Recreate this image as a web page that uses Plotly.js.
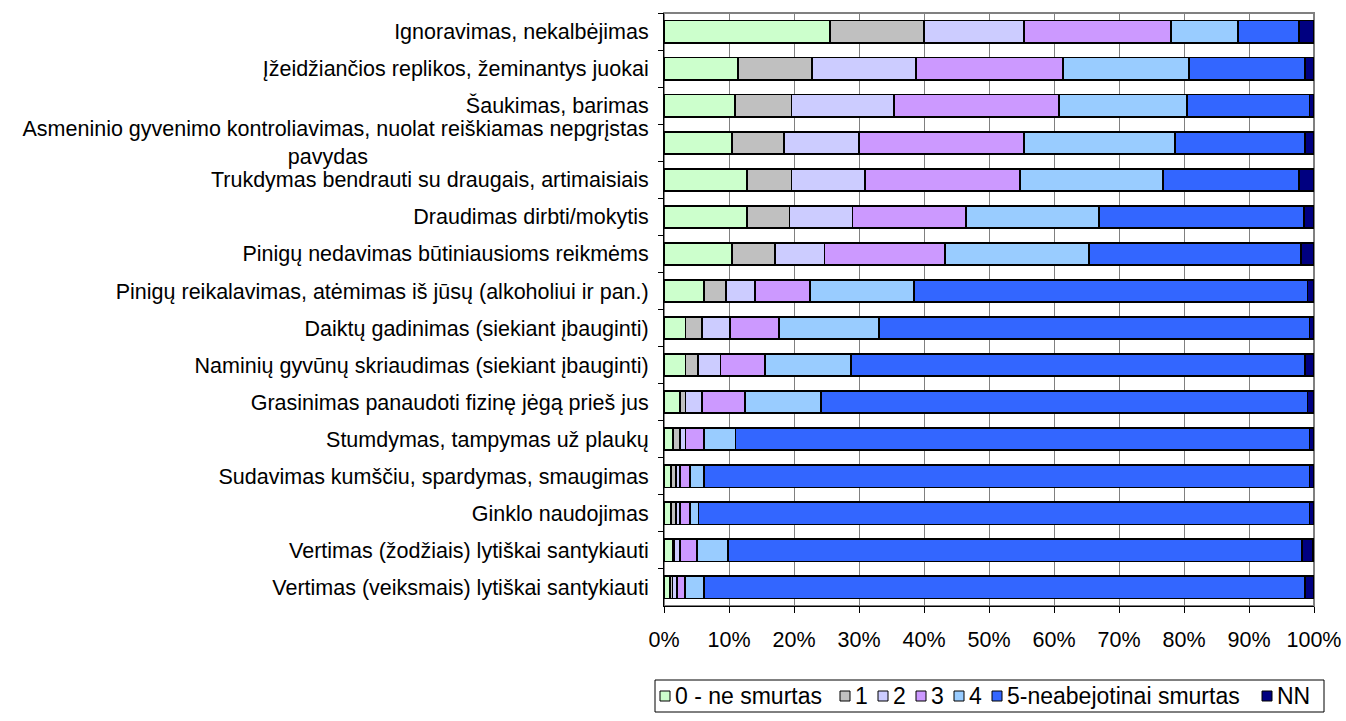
<!DOCTYPE html>
<html>
<head>
<meta charset="utf-8">
<script src="https://cdn.plot.ly/plotly-3.0.1.min.js"></script>
<style>html,body{margin:0;padding:0;background:#fff;}#chart{width:1346px;height:721px;}</style>
</head>
<body>
<div id="chart"></div>
<script>
var NB = '\u00A0';
var categories = [
  "Ignoravimas, nekalbėjimas",
  "Įžeidžiančios replikos, žeminantys juokai",
  "Šaukimas, barimas",
  "Asmeninio gyvenimo kontroliavimas, nuolat reiškiamas nepgrįstas<br>pavydas" + NB.repeat(47),
  "Trukdymas bendrauti su draugais, artimaisiais",
  "Draudimas dirbti/mokytis",
  "Pinigų nedavimas būtiniausioms reikmėms",
  "Pinigų reikalavimas, atėmimas iš jūsų (alkoholiui ir pan.)",
  "Daiktų gadinimas (siekiant įbauginti)",
  "Naminių gyvūnų skriaudimas (siekiant įbauginti)",
  "Grasinimas panaudoti fizinę jėgą prieš jus",
  "Stumdymas, tampymas už plaukų",
  "Sudavimas kumščiu, spardymas, smaugimas",
  "Ginklo naudojimas",
  "Vertimas (žodžiais) lytiškai santykiauti",
  "Vertimas (veiksmais) lytiškai santykiauti"
];
var seriesNames = ["0 - ne smurtas", "1", "2", "3", "4", "5-neabejotinai smurtas", "NN"];
var s0 = [25.5, 11.4, 10.9, 10.5, 12.8, 12.8, 10.5, 6.2, 3.3, 3.3, 2.4, 1.4, 1.1, 1.1, 1.3, 0.9];
var s1 = [14.5, 11.4, 8.7, 7.9, 6.8, 6.5, 6.6, 3.3, 2.5, 1.9, 0.9, 1.0, 0.7, 0.7, 0.2, 0.4];
var s2 = [15.4, 16.0, 15.8, 11.6, 11.3, 9.7, 7.6, 4.5, 4.4, 3.5, 2.5, 0.9, 0.6, 0.6, 0.9, 0.7];
var s3 = [22.6, 22.6, 25.4, 25.4, 23.9, 17.5, 18.5, 8.4, 7.5, 6.8, 6.6, 2.8, 1.6, 1.6, 2.7, 1.2];
var s4 = [10.3, 19.4, 19.7, 23.2, 22.0, 20.4, 22.2, 16.1, 15.4, 13.3, 11.7, 4.9, 2.2, 1.3, 4.7, 3.0];
var s5 = [9.4, 17.8, 18.8, 20.0, 20.9, 31.5, 32.6, 60.5, 66.2, 69.8, 74.9, 88.3, 93.1, 94.0, 88.4, 92.4];
var sNN = [2.3, 1.4, 0.7, 1.4, 2.3, 1.6, 2.0, 1.0, 0.7, 1.4, 1.0, 0.7, 0.7, 0.7, 1.7, 1.4];
var xTickVals = [0, 10, 20, 30, 40, 50, 60, 70, 80, 90, 100];
var xTickText = ["0%", "10%", "20%", "30%", "40%", "50%", "60%", "70%", "80%", "90%", "100%"];

var allSeries = [s0, s1, s2, s3, s4, s5, sNN];
var colors = ["#CCFFCC", "#C0C0C0", "#CCCCFF", "#CC99FF", "#99CCFF", "#3366FF", "#000080"];

var traces = allSeries.map(function (vals, i) {
  return {
    type: 'bar',
    orientation: 'h',
    name: seriesNames[i],
    y: categories,
    x: vals,
    marker: {color: colors[i], line: {color: '#000000', width: 1.8}},
    hoverinfo: 'x+name'
  };
});

// plot area in pixels (for placing the hand-made legend in paper coords)
var W = 1346, H = 721, ML = 664, MR = 32, MT = 13, MB = 115;
var PW = W - ML - MR, PH = H - MT - MB;
function px(x) { return (x - ML) / PW; }
function py(y) { return (H - MB - y) / PH; }

var legBox = {x0: 655, x1: 1324, y0: 680, y1: 712};
var legSq = [660, 840, 878, 916, 954, 992, 1262];
var legTx = [673, 853, 891, 929, 967, 1005, 1275];
var sq = 10, cy = 696;

var shapes = [{
  type: 'rect', xref: 'paper', yref: 'paper', x0: 0, x1: 1, y0: 0, y1: 1,
  line: {color: '#808080', width: 2}, layer: 'below'
}, {
  type: 'rect', xref: 'paper', yref: 'paper',
  x0: px(legBox.x0), x1: px(legBox.x1), y0: py(legBox.y1), y1: py(legBox.y0),
  line: {color: '#000', width: 1}, fillcolor: 'rgba(0,0,0,0)'
}];
var annotations = [];
seriesNames.forEach(function (name, i) {
  shapes.push({
    type: 'rect', xref: 'paper', yref: 'paper',
    x0: px(legSq[i]), x1: px(legSq[i] + sq), y0: py(cy + sq / 2), y1: py(cy - sq / 2),
    line: {color: '#000', width: 1}, fillcolor: colors[i]
  });
  annotations.push({
    xref: 'paper', yref: 'paper', x: px(legTx[i]), y: py(cy),
    xanchor: 'left', yanchor: 'middle', showarrow: false,
    text: name, font: {size: 23, color: '#000'}
  });
});

var layout = {
  width: W,
  height: H,
  margin: {l: ML, r: MR, t: MT, b: MB},
  paper_bgcolor: '#ffffff',
  plot_bgcolor: '#ffffff',
  barmode: 'stack',
  bargap: 0.4,
  showlegend: false,
  font: {family: '"Liberation Sans", Arial, sans-serif', size: 21, color: '#000'},
  xaxis: {
    range: [0, 100],
    tickmode: 'array',
    tickvals: xTickVals,
    ticktext: xTickText,
    showgrid: true,
    gridcolor: '#808080',
    gridwidth: 1,
    showline: true,
    linecolor: '#000',
    linewidth: 1,
    ticks: 'outside',
    ticklen: 6,
    tickcolor: '#000',
    ticklabelstandoff: 8,
    zeroline: false,
    automargin: false,
    tickfont: {size: 21.5, color: '#000'},
    fixedrange: true
  },
  yaxis: {
    type: 'category',
    autorange: 'reversed',
    showline: true,
    linecolor: '#000',
    linewidth: 1,
    ticks: 'outside',
    tickson: 'boundaries',
    ticklen: 5,
    tickcolor: '#000',
    ticklabelstandoff: 10,
    showgrid: false,
    automargin: false,
    tickfont: {size: 21.5, color: '#000'},
    fixedrange: true
  },
  shapes: shapes,
  annotations: annotations
};

Plotly.newPlot('chart', traces, layout, {displayModeBar: false, staticPlot: true});
</script>
</body>
</html>
